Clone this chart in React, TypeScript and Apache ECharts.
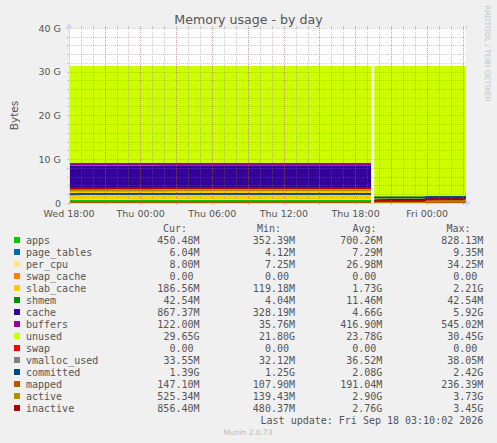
import React, { useEffect, useRef } from "react";
import * as echarts from "echarts";

// hours since Wed 18:00
const TIMES = [0, 1, 2, 3, 4, 5, 6, 7, 8, 9, 10, 11, 12, 13, 14, 15, 16, 17, 18, 19, 20, 21, 22, 23, 24, 25, 25.3, 25.45, 25.56, 26, 27, 28, 29, 29.8, 29.9, 31, 32, 33.25];

// GiB values, null = no data (reboot gap)
const APPS = [0.73, 0.74, 0.74, 0.75, 0.74, 0.73, 0.72, 0.72, 0.73, 0.74, 0.75, 0.75, 0.74, 0.74, 0.75, 0.75, 0.75, 0.74, 0.74, 0.73, 0.74, 0.75, 0.75, 0.74, 0.74, 0.75, 0.74, null, 0.35, 0.37, 0.38, 0.38, 0.39, 0.39, 0.43, 0.44, 0.44, 0.44];
const PAGE_TABLES = [0.0085, 0.0086, 0.0087, 0.0088, 0.0088, 0.0089, 0.0089, 0.009, 0.009, 0.0091, 0.0091, 0.0091, 0.009, 0.009, 0.0089, 0.0089, 0.009, 0.009, 0.0091, 0.0091, 0.009, 0.009, 0.0089, 0.0089, 0.009, 0.009, 0.009, null, 0.004, 0.0045, 0.005, 0.005, 0.005, 0.005, 0.0057, 0.0058, 0.0059, 0.0059];
const PER_CPU = [0.0334, 0.0334, 0.0334, 0.0334, 0.0334, 0.0334, 0.0334, 0.0334, 0.0334, 0.0334, 0.0334, 0.0334, 0.0334, 0.0334, 0.0334, 0.0334, 0.0334, 0.0334, 0.0334, 0.0334, 0.0334, 0.0334, 0.0334, 0.0334, 0.0334, 0.0334, 0.0334, null, 0.0078, 0.0078, 0.0078, 0.0078, 0.0078, 0.0078, 0.0078, 0.0078, 0.0078, 0.0078];
const SWAP_CACHE = [0, 0, 0, 0, 0, 0, 0, 0, 0, 0, 0, 0, 0, 0, 0, 0, 0, 0, 0, 0, 0, 0, 0, 0, 0, 0, 0, null, 0, 0, 0, 0, 0, 0, 0, 0, 0, 0];
const SLAB_CACHE = [2.28, 2.3, 2.31, 2.32, 2.33, 2.33, 2.34, 2.34, 2.35, 2.35, 2.35, 2.36, 2.36, 2.36, 2.37, 2.36, 2.36, 2.35, 2.36, 2.36, 2.36, 2.37, 2.36, 2.36, 2.35, 2.35, 2.35, null, 0.117, 0.125, 0.13, 0.135, 0.138, 0.14, 0.176, 0.18, 0.182, 0.182];
const SHMEM = [0.0045, 0.0046, 0.0048, 0.005, 0.005, 0.0051, 0.0052, 0.005, 0.005, 0.0049, 0.005, 0.0051, 0.0052, 0.0052, 0.005, 0.005, 0.0049, 0.005, 0.0051, 0.0051, 0.005, 0.005, 0.0049, 0.005, 0.005, 0.0051, 0.005, null, 0.03, 0.031, 0.032, 0.033, 0.034, 0.035, 0.04, 0.041, 0.041, 0.0415];
const CACHE = [5.5, 5.48, 5.48, 5.47, 5.47, 5.48, 5.49, 5.49, 5.48, 5.48, 5.47, 5.47, 5.48, 5.48, 5.46, 5.46, 5.47, 5.48, 5.48, 5.49, 5.48, 5.46, 5.47, 5.48, 5.49, 5.48, 5.49, null, 0.32, 0.34, 0.35, 0.36, 0.37, 0.37, 0.8, 0.83, 0.85, 0.847];
const BUFFERS = [0.62, 0.61, 0.6, 0.6, 0.6, 0.6, 0.6, 0.6, 0.6, 0.6, 0.6, 0.6, 0.6, 0.6, 0.6, 0.6, 0.6, 0.6, 0.6, 0.6, 0.6, 0.6, 0.6, 0.6, 0.6, 0.6, 0.6, null, 0.035, 0.04, 0.045, 0.05, 0.05, 0.055, 0.11, 0.115, 0.118, 0.119];
const UNUSED = [22.14, 22.14, 22.14, 22.13, 22.13, 22.13, 22.12, 22.12, 22.11, 22.1, 22.1, 22.09, 22.09, 22.09, 22.09, 22.1, 22.09, 22.1, 22.09, 22.09, 22.09, 22.09, 22.09, 22.09, 22.09, 22.09, 22.09, null, 30.45, 30.4, 30.37, 30.35, 30.33, 30.32, 29.75, 29.7, 29.68, 29.68];
const SWAP = [0, 0, 0, 0, 0, 0, 0, 0, 0, 0, 0, 0, 0, 0, 0, 0, 0, 0, 0, 0, 0, 0, 0, 0, 0, 0, 0, null, 0, 0, 0, 0, 0, 0, 0, 0, 0, 0];
const VMALLOC_USED = [0.0365, 0.0368, 0.037, 0.0371, 0.0372, 0.0371, 0.037, 0.0369, 0.037, 0.0371, 0.0372, 0.0372, 0.0371, 0.037, 0.037, 0.0371, 0.0372, 0.0371, 0.037, 0.037, 0.0371, 0.0372, 0.0371, 0.037, 0.037, 0.0371, 0.037, null, 0.0314, 0.032, 0.0322, 0.0325, 0.0327, 0.033, 0.0335, 0.0336, 0.0335, 0.0328];
const COMMITTED = [2.02, 2.03, 2.04, 2.05, 2.05, 2.04, 2.04, 2.05, 2.06, 2.05, 2.05, 2.06, 2.06, 2.07, 2.07, 2.06, 2.06, 2.06, 2.07, 2.07, 2.06, 2.06, 2.07, 2.07, 2.06, 2.06, 2.06, null, 1.25, 1.26, 1.27, 1.27, 1.28, 1.28, 1.36, 1.37, 1.38, 1.39];
const MAPPED = [0.2, 0.21, 0.21, 0.22, 0.22, 0.21, 0.21, 0.22, 0.22, 0.22, 0.23, 0.23, 0.22, 0.22, 0.23, 0.23, 0.22, 0.22, 0.23, 0.23, 0.22, 0.22, 0.23, 0.23, 0.22, 0.22, 0.22, null, 0.108, 0.11, 0.112, 0.113, 0.114, 0.115, 0.14, 0.143, 0.145, 0.144];
const ACTIVE = [2.84, 2.85, 2.86, 2.86, 2.87, 2.87, 2.88, 2.88, 2.88, 2.89, 2.89, 2.9, 2.9, 2.9, 2.91, 2.9, 2.9, 2.9, 2.91, 2.91, 2.91, 2.92, 2.91, 2.91, 2.9, 2.9, 2.9, null, 0.14, 0.17, 0.19, 0.2, 0.21, 0.22, 0.48, 0.5, 0.51, 0.51];
const INACTIVE = [3.38, 3.39, 3.4, 3.4, 3.41, 3.41, 3.42, 3.42, 3.42, 3.43, 3.43, 3.43, 3.44, 3.44, 3.44, 3.45, 3.45, 3.44, 3.44, 3.45, 3.45, 3.45, 3.44, 3.44, 3.44, 3.44, 3.44, null, 0.48, 0.5, 0.51, 0.52, 0.53, 0.54, 0.82, 0.84, 0.85, 0.84];

const X_LABELS = ["Wed 18:00", "Thu 00:00", "Thu 06:00", "Thu 12:00", "Thu 18:00", "Fri 00:00"];
const X_MAX = 33.25;
const Y_MAX = 40;

const NAMES = ["apps", "page_tables", "per_cpu", "swap_cache", "slab_cache", "shmem", "cache", "buffers", "unused", "swap", "vmalloc_used", "committed", "mapped", "active", "inactive"];
const CUR = ["450.48M", "6.04M", "8.00M", "0.00", "186.56M", "42.54M", "867.37M", "122.00M", "29.65G", "0.00", "33.55M", "1.39G", "147.10M", "525.34M", "856.40M"];
const MIN = ["352.39M", "4.12M", "7.25M", "0.00", "119.18M", "4.04M", "328.19M", "35.76M", "21.80G", "0.00", "32.12M", "1.25G", "107.90M", "139.43M", "480.37M"];
const AVG = ["700.26M", "7.29M", "26.98M", "0.00", "1.73G", "11.46M", "4.66G", "416.90M", "23.78G", "0.00", "36.52M", "2.08G", "191.04M", "2.90G", "2.76G"];
const MAX = ["828.13M", "9.35M", "34.25M", "0.00", "2.21G", "42.54M", "5.92G", "545.02M", "30.45G", "0.00", "38.05M", "2.42G", "236.39M", "3.73G", "3.45G"];

const VALUES = [APPS, PAGE_TABLES, PER_CPU, SWAP_CACHE, SLAB_CACHE, SHMEM, CACHE, BUFFERS, UNUSED, SWAP, VMALLOC_USED, COMMITTED, MAPPED, ACTIVE, INACTIVE];
const COLORS = ["#00CC00", "#0066B3", "#FFE680", "#FF8000", "#FFCC00", "#008F00", "#330099", "#990099", "#CCFF00", "#FF0000", "#808080", "#00487D", "#B35A00", "#B38F00", "#B30000"];
const AREA_COUNT = 10;
const HOUR_MS = 3600000;
const START_MS = Date.UTC(2026, 8, 16, 18, 0, 0); // Wed Sep 16 2026 18:00

const SANS = "'DejaVu Sans', sans-serif";
const MONO = "'DejaVu Sans Mono', monospace";
const FONT_COLOR = "#555";
const MGRID = "rgba(225,80,80,0.38)";
const GRID = "rgba(120,120,120,0.38)";
const AXIS = "#CFD6F8";

function buildOption() {
  const series = NAMES.map((name, i) => {
    const data = TIMES.map((t, k) => [START_MS + t * HOUR_MS, VALUES[i][k]]);
    const common = {
      name,
      type: "line",
      xAxisIndex: 2,
      yAxisIndex: 0,
      data,
      showSymbol: false,
      symbol: "none",
      connectNulls: false,
      clip: false,
      itemStyle: { color: COLORS[i] },
    };
    if (i < AREA_COUNT) {
      return {
        ...common,
        stack: "mem",
        lineStyle: { width: 0, color: COLORS[i] },
        areaStyle: { color: COLORS[i], opacity: 1 },
        z: 2,
      };
    }
    return { ...common, lineStyle: { width: 2, color: COLORS[i] }, z: 3 };
  });

  const graphic: any[] = [];
  const colRight = [199.5, 295, 382.3, 483.3];
  const headerX = [163, 257, 352.5, 446.5];
  const headers = ["Cur:", "Min:", "Avg:", "Max:"];
  headers.forEach((h, j) => {
    graphic.push({
      type: "text",
      x: headerX[j],
      y: 228,
      style: { text: h, font: `10px ${MONO}`, fill: FONT_COLOR, textAlign: "left", textVerticalAlign: "middle" },
    });
  });
  const cols = [CUR, MIN, AVG, MAX];
  NAMES.forEach((name, i) => {
    const y = 240 + 12 * i;
    graphic.push({
      type: "rect",
      shape: { x: 14, y: y - 3, width: 6, height: 6 },
      style: { fill: COLORS[i] },
    });
    graphic.push({
      type: "text",
      x: 26,
      y,
      style: { text: name, font: `10px ${MONO}`, fill: FONT_COLOR, textAlign: "left", textVerticalAlign: "middle" },
    });
    cols.forEach((col, j) => {
      const v = col[i];
      const hasUnit = /[A-Za-z]$/.test(v);
      graphic.push({
        type: "text",
        x: colRight[j] - (hasUnit ? 0 : 6),
        y,
        style: { text: v, font: `10px ${MONO}`, fill: FONT_COLOR, textAlign: "right", textVerticalAlign: "middle" },
      });
    });
  });
  graphic.push({
    type: "text",
    x: 483.3,
    y: 420,
    style: { text: "Last update: Fri Sep 18 03:10:02 2026", font: `10px ${MONO}`, fill: FONT_COLOR, textAlign: "right", textVerticalAlign: "middle" },
  });
  graphic.push({
    type: "text",
    x: 248,
    y: 432,
    style: { text: "Munin 2.0.73", font: `7.5px ${SANS}`, fill: "#bbbbbb", textAlign: "center", textVerticalAlign: "middle" },
  });
  graphic.push({
    type: "text",
    x: 487.5,
    y: 53.5,
    rotation: -Math.PI / 2,
    style: { text: "RRDTOOL / TOBI OETIKER", font: `7.5px ${SANS}`, fill: "#c4c4c4", textAlign: "center", textVerticalAlign: "middle" },
  });

  return {
    animation: false,
    backgroundColor: "#F0F0F0",
    title: {
      text: "Memory usage - by day",
      left: "center",
      top: 13,
      padding: 0,
      textStyle: { fontFamily: SANS, fontSize: 12.6, fontWeight: "normal", color: FONT_COLOR },
    },
    grid: {
      left: 67,
      top: 28,
      width: 399,
      height: 175,
      show: true,
      backgroundColor: "#FFFFFF",
      borderWidth: 0,
      containLabel: false,
    },
    xAxis: [
      {
        type: "value",
        min: 0,
        max: X_MAX,
        interval: 3,
        z: 11,
        axisLine: { show: true, lineStyle: { color: AXIS, width: 1 }, symbol: ["none", "arrow"], symbolSize: [6, 6], symbolOffset: [0, 5] },
        axisTick: { show: true, length: 2, lineStyle: { color: MGRID } },
        axisLabel: {
          margin: 5,
          fontFamily: SANS,
          fontSize: 9.5,
          color: FONT_COLOR,
          showMaxLabel: false,
          formatter: (v: number) => {
            const i = Math.round(v / 6);
            return Math.abs(v - i * 6) < 1e-6 && i < X_LABELS.length ? X_LABELS[i] : "";
          },
        },
        splitLine: { show: true, showMaxLine: false, showMinLine: false, lineStyle: { color: MGRID, type: [1, 1], width: 1 } },
      },
      {
        type: "value",
        min: 0,
        max: X_MAX,
        interval: 1,
        z: 10,
        axisLine: { show: false },
        axisTick: { show: true, length: 2, lineStyle: { color: GRID } },
        axisLabel: { show: false },
        splitLine: { show: true, showMaxLine: false, showMinLine: false, lineStyle: { color: GRID, type: [1, 1], width: 1 } },
      },
      {
        type: "time",
        min: START_MS,
        max: START_MS + X_MAX * HOUR_MS,
        boundaryGap: false,
        show: false,
        splitLine: { show: false },
      },
    ],
    yAxis: {
      type: "value",
      min: 0,
      max: Y_MAX,
      interval: 10,
      z: 11,
      name: "Bytes",
      nameLocation: "middle",
      nameGap: 50,
      nameRotate: 90,
      nameTextStyle: { fontFamily: SANS, fontSize: 10.5, color: FONT_COLOR },
      axisLine: { show: true, onZero: false, lineStyle: { color: AXIS, width: 1 }, symbol: ["none", "arrow"], symbolSize: [6, 6], symbolOffset: [0, 5] },
      axisTick: { show: true, length: 2, lineStyle: { color: MGRID } },
      minorTick: { show: true, splitNumber: 5, length: 2, lineStyle: { color: GRID } },
      axisLabel: {
        margin: 8,
        fontFamily: SANS,
        fontSize: 9.5,
        color: FONT_COLOR,
        formatter: (v: number) => (v === 0 ? "0" : `${v} G`),
      },
      splitLine: { show: true, showMinLine: false, lineStyle: { color: MGRID, type: [1, 1], width: 1 } },
      minorSplitLine: { show: true, lineStyle: { color: GRID, type: [1, 1], width: 1 } },
    },
    series,
    graphic,
  };
}

export default function App() {
  const ref = useRef<HTMLDivElement>(null);
  useEffect(() => {
    if (!ref.current) return;
    const chart = echarts.init(ref.current, undefined, { renderer: "svg" });
    chart.setOption(buildOption() as any);
    return () => chart.dispose();
  }, []);
  return (
    <div
      ref={ref}
      style={{ position: "fixed", left: 0, top: 0, width: 497, height: 443, background: "#F0F0F0" }}
    />
  );
}
